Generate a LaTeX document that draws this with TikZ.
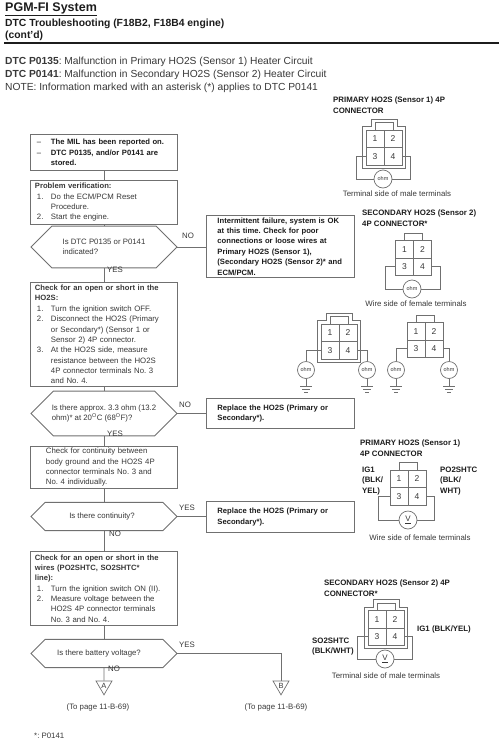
\documentclass[tikz,border=0pt]{standalone}
\usepackage{fontspec}
\setmainfont{Liberation Sans}
\usepackage{tikz}
\usetikzlibrary{arrows.meta,positioning,calc,shapes.geometric,shapes.misc}
\definecolor{ManualInk}{HTML}{1C1C1C}
\definecolor{ManualText}{HTML}{383838}
\definecolor{ManualLine}{HTML}{707070}
\newcommand{\stepline}[2]{\hspace*{2pt}\makebox[14pt][l]{#1}#2}
\newcommand{\steprest}[1]{\hspace*{16pt}#1}
\newcommand{\fourpin}[3]{%
  \node[pincell] (#1-1) at (#2-9,#3-8.75) {1};
  \node[pincell] (#1-2) at (#2+9,#3-8.75) {2};
  \node[pincell] (#1-3) at (#2-9,#3+8.75) {3};
  \node[pincell] (#1-4) at (#2+9,#3+8.75) {4};
  \draw[wire] (#2-9,#3-17.5) -- (#2-9,#3-25) -- (#2+9,#3-25) -- (#2+9,#3-17.5);
}
\newcommand{\maleshell}[2]{%
  \draw[wire] (#1-21.5,#2-21) -- (#1-13,#2-21) -- (#1-13,#2-28.5)
    -- (#1+13,#2-28.5) -- (#1+13,#2-21) -- (#1+21.5,#2-21)
    -- (#1+21.5,#2+20.5) -- (#1-21.5,#2+20.5) -- cycle;
}
\newcommand{\groundbars}[1]{%
  \draw[wire] (#1.south) -- ++(0,7) coordinate (#1-g);
  \draw[wire] ($(#1-g)+(-6,0)$) -- ($(#1-g)+(6,0)$);
  \draw[wire] ($(#1-g)+(-4,3)$) -- ($(#1-g)+(4,3)$);
  \draw[wire] ($(#1-g)+(-2,6)$) -- ($(#1-g)+(2,6)$);
}
\newcommand{\boxfont}{\fontsize{7.8}{10.35}\selectfont}
\newcommand{\boxbold}{\fontsize{7.65}{10.35}\selectfont\bfseries}
\begin{document}
\frenchspacing
\begin{tikzpicture}[
    x=1pt,
    y=-1pt,
    mainbox/.style={
      draw=ManualLine,
      line width=0.9pt,
      fill=white,
      anchor=north west,
      align=left,
      text width=137pt,
      inner xsep=5pt,
      inner ysep=0pt,
      text=ManualText,
      font=\boxfont
    },
    sidebox/.style={
      mainbox,
      text width=126pt,
      inner xsep=11pt,
      font=\boxbold,
      text=ManualInk
    },
    hexbox/.style={
      draw=ManualLine,
      line width=0.9pt,
      fill=white,
      chamfered rectangle,
      chamfered rectangle xsep=13pt,
      chamfered rectangle ysep=#1,
      minimum width=146pt,
      inner sep=0pt,
      align=left,
      text=ManualText,
      font=\boxfont
    },
    link/.style={
      line width=0.9pt,
      color=ManualLine
    },
    wire/.style={
      line width=0.7pt,
      color=ManualLine
    },
    pincell/.style={
      draw=ManualLine,
      line width=0.7pt,
      minimum width=18pt,
      minimum height=17.5pt,
      inner sep=0pt,
      text=ManualText,
      font=\fontsize{8.5}{10}\selectfont
    },
    meter/.style={
      circle,
      draw=ManualLine,
      line width=0.7pt,
      fill=white,
      minimum size=17pt,
      inner sep=0pt,
      text=ManualText,
      font=\fontsize{5.5}{6}\selectfont
    },
    flagtri/.style={
      regular polygon,
      regular polygon sides=3,
      shape border rotate=180,
      draw=ManualLine,
      line width=0.7pt,
      minimum size=18.5pt,
      inner sep=0pt,
      text=ManualText,
      font=\fontsize{7.5}{9}\selectfont
    },
    plainlabel/.style={
      inner sep=0pt,
      align=left,
      text=ManualText,
      font=\fontsize{7.85}{10.6}\selectfont
    },
    boldlabel/.style={
      inner sep=0pt,
      align=left,
      anchor=west,
      text=ManualInk,
      font=\fontsize{7.85}{10.8}\selectfont\bfseries
    }
  ]
  \useasboundingbox (0,0) rectangle (499,750);

  % Header
  \node[anchor=west,inner sep=0pt,text=ManualInk,font=\fontsize{12.5}{14}\selectfont\bfseries] (title) at (5,8) {PGM-FI System};
  \draw[line width=0.9pt,color=ManualInk] (title.south west) ++(0,2) -- ++(92,0);
  \node[anchor=west,inner sep=0pt,text=ManualInk,font=\fontsize{10.35}{12}\selectfont\bfseries] (subtitle) at (5,24) {DTC Troubleshooting (F18B2, F18B4 engine)};
  \node[anchor=west,inner sep=0pt,text=ManualInk,font=\fontsize{10.35}{12}\selectfont\bfseries] (contd) at (5,36) {(cont'd)};
  \draw[line width=1.5pt,color=ManualInk] (4,43) -- (499,43);
  \node[anchor=north west,inner sep=0pt,align=left,text=ManualText,font=\fontsize{10.25}{13}\selectfont] (intro) at (5,57)
    {\textbf{DTC P0135}: Malfunction in Primary HO2S (Sensor 1) Heater Circuit\\
     \textbf{DTC P0141}: Malfunction in Secondary HO2S (Sensor 2) Heater Circuit\\
     NOTE: Information marked with an asterisk (*) applies to DTC P0141};

  % Flow boxes
  \node[mainbox,minimum height=36pt,font=\boxbold,text=ManualInk] (mil) at (29.5,134)
    {\stepline{\textmd{--}}{The MIL has been reported on.}\\
     \stepline{\textmd{--}}{DTC P0135, and/or P0141 are}\\
     \steprest{stored.}};
  \node[mainbox,minimum height=44pt] (verify) at (29.5,180)
    {{\boxbold Problem verification:}\\
     \stepline{1.}{Do the ECM/PCM Reset}\\
     \steprest{Procedure.}\\
     \stepline{2.}{Start the engine.}};
  \node[mainbox,minimum height=104pt] (heater) at (29.5,282)
    {{\boxbold Check for an open or short in the}\\
     {\boxbold HO2S:}\\
     \stepline{1.}{Turn the ignition switch OFF.}\\
     \stepline{2.}{Disconnect the HO2S (Primary}\\
     \steprest{or Secondary*) (Sensor 1 or}\\
     \steprest{Sensor 2) 4P connector.}\\
     \stepline{3.}{At the HO2S side, measure}\\
     \steprest{resistance between the HO2S}\\
     \steprest{4P connector terminals No. 3}\\
     \steprest{and No. 4.}};
  \node[mainbox,minimum height=42pt] (body) at (29.5,446)
    {\hspace*{11pt}Check for continuity between\\
     \hspace*{11pt}body ground and the HO2S 4P\\
     \hspace*{11pt}connector terminals No. 3 and\\
     \hspace*{11pt}No. 4 individually.};
  \node[mainbox,minimum height=74pt] (wires) at (29.5,551)
    {{\boxbold Check for an open or short in the}\\
     {\boxbold wires (PO2SHTC, SO2SHTC*}\\
     {\boxbold line):}\\
     \stepline{1.}{Turn the ignition switch ON (II).}\\
     \stepline{2.}{Measure voltage between the}\\
     \steprest{HO2S 4P connector terminals}\\
     \steprest{No. 3 and No. 4.}};

  % Decisions
  \node[hexbox=13pt,minimum height=26pt] (ask1) at (104,247) {Is DTC P0135 or P0141\\indicated?\hspace*{30pt}};
  \node[hexbox=13.5pt,minimum height=27pt] (ask2) at (104,413.5) {Is there approx. 3.3 ohm (13.2\\ohm)* at 20\textsuperscript{O}C (68\textsuperscript{O}F)?};
  \node[hexbox=10.5pt,minimum height=21pt] (ask3) at (104,516.5) {Is there continuity?\hspace*{4pt}};
  \node[hexbox=10.5pt,minimum height=21pt] (ask4) at (104,653.5) {Is there battery voltage?\hspace*{10pt}};

  % Side boxes
  \node[sidebox,minimum height=62pt] (intermit) at (206,215)
    {Intermittent failure, system is OK\\
     at this time. Check for poor\\
     connections or loose wires at\\
     Primary HO2S (Sensor 1),\\
     (Secondary HO2S (Sensor 2)* and\\
     ECM/PCM.};
  \node[sidebox,minimum height=30pt] (replace1) at (206,398)
    {Replace the HO2S (Primary or\\Secondary*).};
  \node[sidebox,minimum height=31pt] (replace2) at (206,501)
    {Replace the HO2S (Primary or\\Secondary*).};

  % Off page marks
  \node[flagtri] (markA) at (104,685.6) {A};
  \node[flagtri] (markB) at (281,685.6) {B};
  \node[plainlabel] (pageA) at (98,707) {(To page 11-B-69)};
  \node[plainlabel] (pageB) at (276,707) {(To page 11-B-69)};
  \node[plainlabel,anchor=west] (foot) at (34,736) {*: P0141};

  % Links
  \draw[link] (mil.south -| ask1) -- (verify.north -| ask1);
  \draw[link] (verify.south -| ask1) -- (ask1.north);
  \draw[link] (ask1.south) -- (heater.north -| ask1);
  \draw[link] (heater.south -| ask1) -- (ask2.north);
  \draw[link] (ask2.south) -- (body.north -| ask2);
  \draw[link] (body.south -| ask2) -- (ask3.north);
  \draw[link] (ask3.south) -- (wires.north -| ask3);
  \draw[link] (wires.south -| ask3) -- (ask4.north);
  \draw[link] (ask4.south) -- (markA.north);
  \draw[link] (ask4.east) -| (markB.north);
  \draw[link] (ask1.east) -- (ask1.east -| intermit.west);
  \draw[link] (ask2.east) -- (ask2.east -| replace1.west);
  \draw[link] (ask3.east) -- (ask3.east -| replace2.west);

  % Link labels
  \node[plainlabel] (no1) at (188,236) {NO};
  \node[plainlabel] (yes1) at (115,270) {YES};
  \node[plainlabel] (no2) at (185,405) {NO};
  \node[plainlabel] (yes2) at (115,434) {YES};
  \node[plainlabel] (yes3) at (187,508) {YES};
  \node[plainlabel] (no3) at (115,534) {NO};
  \node[plainlabel] (yes4) at (187,645) {YES};
  \node[plainlabel] (no4) at (114,669) {NO};

  % Primary connector, top
  \node[boldlabel] (headA) at (333,105) {PRIMARY HO2S (Sensor 1) 4P\\CONNECTOR};
  \maleshell{384}{147.5}
  \fourpin{pa}{384}{147.5}
  \node[meter,minimum size=18pt] (ma) at (383,179) {ohm};
  \draw[wire] (pa-3.west) -- ++(-9,0) |- (ma.west);
  \draw[wire] (pa-4.east) -- ++(8,0) |- (ma.east);
  \node[plainlabel] (sideA) at (397,194) {Terminal side of male terminals};

  % Secondary connector, top
  \node[boldlabel] (headB) at (362,218) {SECONDARY HO2S (Sensor 2)\\4P CONNECTOR*};
  \fourpin{pb}{413.5}{258}
  \node[meter,minimum size=18pt] (mb) at (412,289) {ohm};
  \draw[wire] (pb-3.west) -- ++(-10,0) |- (mb.west);
  \draw[wire] (pb-4.east) -- ++(8,0) |- (mb.east);
  \node[plainlabel] (sideB) at (416,304) {Wire side of female terminals};

  % Resistance to ground, male
  \maleshell{339}{341.5}
  \fourpin{pc}{339}{341.5}
  \node[meter] (mc1) at (306,370) {ohm};
  \node[meter] (mc2) at (367,370) {ohm};
  \draw[wire] (pc-3.west) -| (mc1.north);
  \draw[wire] (pc-4.east) -| (mc2.north);
  \groundbars{mc1}
  \groundbars{mc2}

  % Resistance to ground, female
  \fourpin{pd}{425}{340}
  \node[meter] (md1) at (396,370) {ohm};
  \node[meter] (md2) at (449,370) {ohm};
  \draw[wire] (pd-3.west) -| (md1.north);
  \draw[wire] (pd-4.east) -| (md2.north);
  \groundbars{md1}
  \groundbars{md2}

  % Primary connector, voltage
  \node[boldlabel] (headE) at (360,448.5) {PRIMARY HO2S (Sensor 1)\\4P CONNECTOR};
  \fourpin{pe}{408}{487.5}
  \node[meter,minimum size=18pt,font=\fontsize{8}{10}\selectfont] (me) at (408,520) {\underline{V}};
  \draw[wire] (pe-3.west) -- ++(-11,0) |- (me.west);
  \draw[wire] (pe-4.east) -- ++(8,0) |- (me.east);
  \node[boldlabel] (leftE) at (362,481) {IG1\\(BLK/\\YEL)};
  \node[boldlabel] (rightE) at (440,481) {PO2SHTC\\(BLK/\\WHT)};
  \node[plainlabel] (sideE) at (420,538) {Wire side of female terminals};

  % Secondary connector, voltage
  \node[boldlabel] (headF) at (324,588.5) {SECONDARY HO2S (Sensor 2) 4P\\CONNECTOR*};
  \maleshell{386}{628}
  \fourpin{pf}{386}{628}
  \node[meter,minimum size=18pt,font=\fontsize{8}{10}\selectfont] (mf) at (385,659) {\underline{V}};
  \draw[wire] (pf-3.west) -- ++(-10,0) |- (mf.west);
  \draw[wire] (pf-4.east) -- ++(8,0) |- (mf.east);
  \node[boldlabel] (rightF) at (417,629) {IG1 (BLK/YEL)};
  \node[boldlabel] (leftF) at (312,646.5) {SO2SHTC\\(BLK/WHT)};
  \node[plainlabel] (sideF) at (386,676) {Terminal side of male terminals};

\end{tikzpicture}
\end{document}
